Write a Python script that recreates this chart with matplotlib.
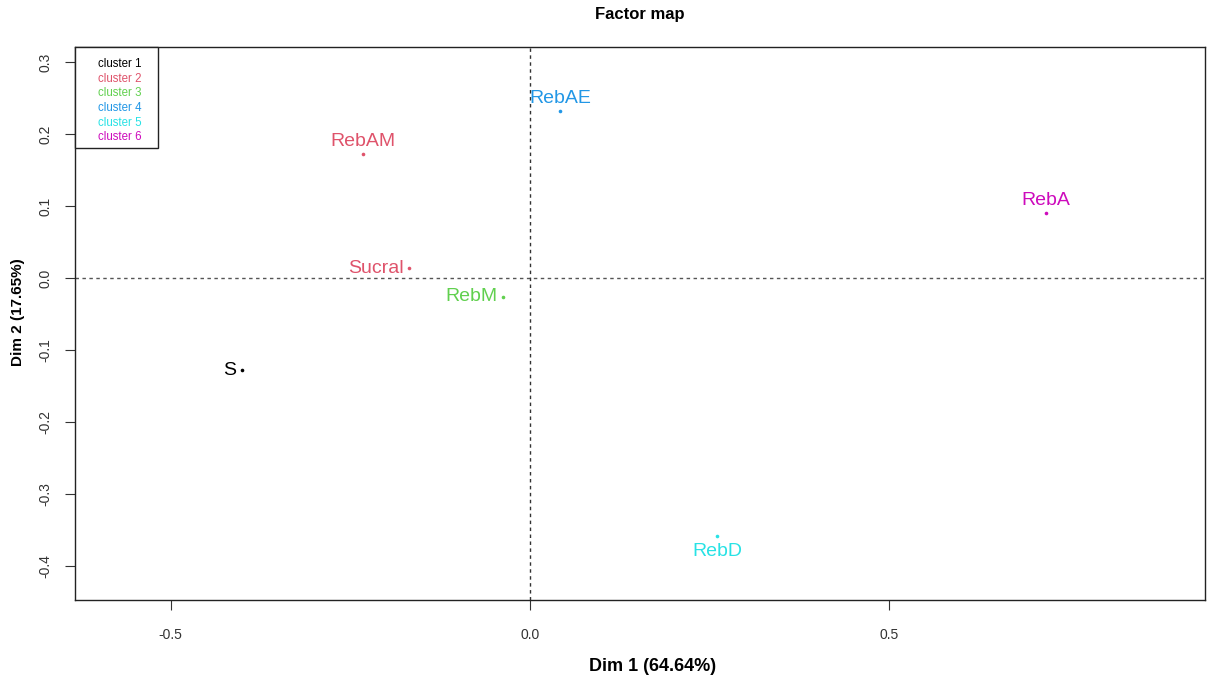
import matplotlib
matplotlib.use("Agg")
import matplotlib.pyplot as plt
from matplotlib.patches import Rectangle

plt.rcParams['font.family'] = ['Liberation Sans', 'DejaVu Sans']

# Individuals on the first two dimensions
names = ["S", "RebAM", "Sucral", "RebM", "RebAE", "RebA", "RebD"]
dim1 = [-0.401, -0.232, -0.168, -0.038, 0.042, 0.718, 0.260]
dim2 = [-0.128, 0.172, 0.014, -0.026, 0.232, 0.090, -0.358]
cluster = [1, 2, 2, 3, 4, 6, 5]
label_pos = ["left", "top", "left", "left", "top", "top", "bottom"]

cluster_names = ["cluster 1", "cluster 2", "cluster 3", "cluster 4", "cluster 5", "cluster 6"]
cluster_colors = ["#000000", "#DF536B", "#61D04F", "#2297E6", "#28E2E5", "#CD0BBC"]

xticks = [-0.5, 0.0, 0.5]
yticks = [-0.4, -0.3, -0.2, -0.1, 0.0, 0.1, 0.2, 0.3]

fig = plt.figure(figsize=(12.12, 6.83), dpi=100)
ax = fig.add_axes([0.0619, 0.1215, 0.9323, 0.8097])

ax.set_xlim(-0.633, 0.939)
ax.set_ylim(-0.447, 0.321)

ax.axhline(0, color="#555555", lw=1.0, ls=(0, (2.5, 2.5)), zorder=1)
ax.axvline(0, color="#333333", lw=1.0, ls=(0, (2.5, 2.5)), zorder=1)

for n, x, y, c, p in zip(names, dim1, dim2, cluster, label_pos):
    col = cluster_colors[c - 1]
    ax.plot(x, y, "o", ms=2.6, color=col, mec="none", zorder=3)
    kw = dict(color=col, fontsize=14, zorder=3)
    if p == "left":
        ax.annotate(n, (x, y), xytext=(-4, 0), textcoords="offset points",
                    ha="right", va="center", **kw)
    elif p == "top":
        ax.annotate(n, (x, y), xytext=(0, 3), textcoords="offset points",
                    ha="center", va="bottom", **kw)
    else:
        ax.annotate(n, (x, y), xytext=(0, -5), textcoords="offset points",
                    ha="center", va="top", **kw)

ax.set_xticks(xticks)
ax.set_xticklabels([f"{v:.1f}" for v in xticks])
ax.set_yticks(yticks)
ax.set_yticklabels([f"{v:.1f}" for v in yticks], rotation=90, va="center")
ax.tick_params(axis="both", direction="out", length=7, width=0.8,
               labelsize=10, colors="#333333")
ax.tick_params(axis="x", pad=13)
ax.tick_params(axis="y", pad=9)
for s in ax.spines.values():
    s.set_linewidth(1.0)
    s.set_color("#222222")

ax.set_xlabel("Dim 1 (64.64%)", fontsize=13, fontweight="bold")
ax.xaxis.set_label_coords(0.511, -0.105)
ax.set_ylabel("Dim 2 (17.65%)", fontsize=11, fontweight="bold")
ax.yaxis.set_label_coords(-0.044, 0.52)
ax.set_title("Factor map", fontsize=12, fontweight="bold", pad=20)

# Cluster key in the top-left corner
ax.add_patch(Rectangle((0, 0.818), 0.0735, 0.182, transform=ax.transAxes,
                       fill=True, facecolor="white", edgecolor="#222222",
                       lw=1.0, zorder=4, clip_on=False))
for i, (lab, col) in enumerate(zip(cluster_names, cluster_colors)):
    ax.text(0.0203, 0.969 - i * 0.0264, lab, color=col, fontsize=8.3,
            transform=ax.transAxes, ha="left", va="center", zorder=5)

fig.savefig("out.png", dpi=100, facecolor="white")
